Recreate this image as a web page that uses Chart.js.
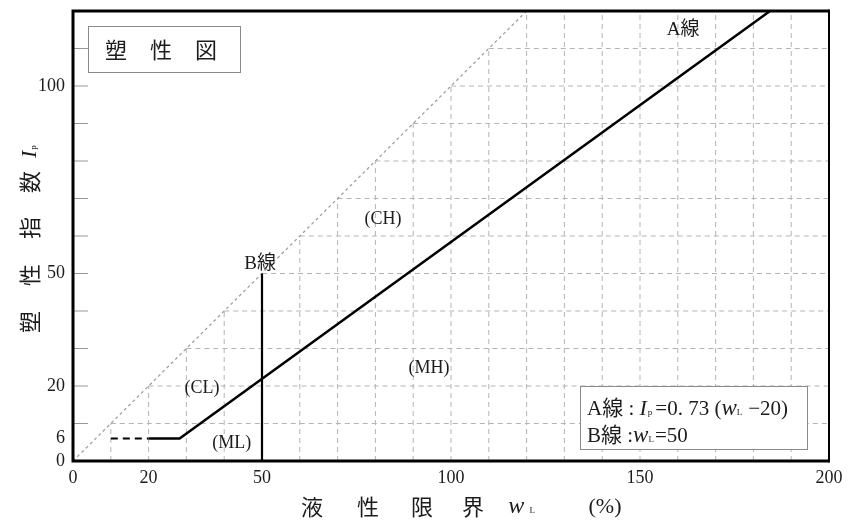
<!DOCTYPE html>
<html><head><meta charset="utf-8">
<script src="https://cdn.jsdelivr.net/npm/chart.js@4"></script>
<style>html,body{margin:0;padding:0;background:#fff}</style>
</head><body>
<canvas id="c" width="848" height="528"></canvas>
<script>
// ---- data ----
const xTickValues = [0, 20, 50, 100, 150, 200];
const yTickValues = [0, 6, 20, 50, 100];
const gridXValues = [10, 20, 30, 40, 50, 60, 70, 80, 90, 100, 110, 120, 130, 140, 150, 160, 170, 180, 190];
const gridYValues = [10, 20, 30, 40, 50, 60, 70, 80, 90, 100, 110];
const uLineX = [0, 120];
const uLineY = [0, 120];
const aLineX = [20, 28.2, 184.4];
const aLineY = [6, 6, 120];
const aDashX = [10, 20];
const aDashY = [6, 6];
const bLineX = [50, 50];
const bLineY = [0, 50];
const regionLabels = ['(CH)', '(MH)', '(CL)', '(ML)'];
const regionLabelX = [82, 94.2, 34.1, 42];
const regionLabelY = [64.5, 24.8, 19.5, 4.8];
const lineLabels = ['A線', 'B線'];
const lineLabelX = [161.4, 49.5];
const lineLabelY = [115, 52.5];
const X_MAX = 200, Y_MAX = 120;

// ---- styles ----
const SERIF = '"Liberation Serif", "Noto Sans CJK JP", serif';
const CJK = '"Noto Sans CJK JP", sans-serif';
const TXT = '#1c1c1c';
const GRID = '#b4b4b4';
const TICK_LEN = 4;

const pts = (xs, ys) => xs.map((x, i) => ({x: x, y: ys[i]}));
const datasets = [];
datasets.push({data: pts(aLineX, aLineY), borderColor: '#000', borderWidth: 2.5, order: 0});
datasets.push({data: pts(aDashX, aDashY), borderColor: '#000', borderWidth: 2, borderDash: [7, 5], order: 0});
datasets.push({data: pts(bLineX, bLineY), borderColor: '#000', borderWidth: 2.2, order: 0});
datasets.push({data: pts(uLineX, uLineY), borderColor: '#a0a0a0', borderWidth: 1.3, borderDash: [3, 3], order: 1});
gridXValues.forEach(k => datasets.push({data: [{x: k, y: 0}, {x: k, y: Math.min(k, Y_MAX)}], borderColor: GRID, borderWidth: 1, borderDash: [5, 4], order: 2}));
gridYValues.forEach(k => datasets.push({data: [{x: k, y: k}, {x: X_MAX, y: k}], borderColor: GRID, borderWidth: 1, borderDash: [5, 4], order: 2}));
gridYValues.forEach(k => datasets.push({data: [{x: 0, y: k}, {x: TICK_LEN, y: k}], borderColor: '#999', borderWidth: 1, order: 2}));
datasets.forEach(d => { d.showLine = true; d.pointRadius = 0; d.fill = false; d.tension = 0; });

function drawRich(ctx, segs, x, y, align) {
  let w = 0;
  segs.forEach(s => { ctx.font = s.f; s.w = ctx.measureText(s.t).width; w += s.w + (s.g || 0); });
  let cx = align === 'center' ? x - w / 2 : x;
  segs.forEach(s => { ctx.font = s.f; ctx.fillText(s.t, cx, y + (s.dy || 0)); cx += s.w + (s.g || 0); });
}

const deco = {
  id: 'deco',
  afterDatasetsDraw(chart) {
    const ctx = chart.ctx, a = chart.chartArea, xs = chart.scales.x, ys = chart.scales.y;
    ctx.save();
    // frame
    ctx.strokeStyle = '#000';
    ctx.lineWidth = 3;
    ctx.beginPath();
    ctx.moveTo(a.right, a.top); ctx.lineTo(a.left, a.top); ctx.lineTo(a.left, a.bottom); ctx.lineTo(a.right, a.bottom);
    ctx.stroke();
    ctx.lineWidth = 2;
    ctx.beginPath(); ctx.moveTo(a.right, a.top - 1.5); ctx.lineTo(a.right, a.bottom + 1.5); ctx.stroke();

    ctx.fillStyle = TXT;
    ctx.textBaseline = 'middle';
    ctx.textAlign = 'center';
    // region labels
    ctx.font = '18px ' + SERIF;
    regionLabels.forEach((t, i) => ctx.fillText(t, xs.getPixelForValue(regionLabelX[i]), ys.getPixelForValue(regionLabelY[i])));
    ctx.font = '19px ' + SERIF;
    lineLabels.forEach((t, i) => ctx.fillText(t, xs.getPixelForValue(lineLabelX[i]), ys.getPixelForValue(lineLabelY[i])));

    // title box
    ctx.fillStyle = '#fff';
    ctx.fillRect(88, 26, 152, 46);
    ctx.strokeStyle = '#8a8a8a'; ctx.lineWidth = 1;
    ctx.strokeRect(88.5, 26.5, 152, 46);
    ctx.fillStyle = TXT;
    ctx.font = '22px ' + CJK;
    ['塑', '性', '図'].forEach((c, i) => ctx.fillText(c, 116 + i * 45, 50));

    // formula box
    ctx.fillStyle = '#fff';
    ctx.fillRect(580, 386, 227, 63);
    ctx.strokeStyle = '#8a8a8a';
    ctx.strokeRect(580.5, 386.5, 227, 63);
    ctx.fillStyle = TXT;
    ctx.textAlign = 'left';
    const F = '21px ' + SERIF;
    drawRich(ctx, [
      {t: 'A線 : ', f: F},
      {t: 'I', f: 'italic 22px ' + SERIF, g: 1},
      {t: 'p', f: '9px ' + SERIF, dy: 4, g: 3},
      {t: '=0. 73 (', f: F},
      {t: 'w', f: 'italic 23px ' + SERIF},
      {t: 'L', f: '9px ' + SERIF, dy: 4, g: 6},
      {t: '−20)', f: F}
    ], 587, 409, 'left');
    drawRich(ctx, [
      {t: 'B線 :', f: F},
      {t: 'w', f: 'italic 23px ' + SERIF},
      {t: 'L', f: '9px ' + SERIF, dy: 4, g: 1},
      {t: '=50', f: F}
    ], 587, 436, 'left');

    // x axis title
    ctx.textAlign = 'center';
    ctx.font = '22px ' + CJK;
    ['液', '性', '限', '界'].forEach((c, i) => ctx.fillText(c, [312, 368, 422, 473][i], 507));
    drawRich(ctx, [
      {t: 'w', f: 'italic 24px ' + SERIF},
      {t: 'L', f: '9px ' + SERIF, dy: 4}
    ], 527, 507, 'center');
    ctx.font = '22px ' + SERIF;
    ctx.fillText('(%)', 605, 507);

    // y axis title (rotated)
    ctx.save();
    ctx.translate(30, 240);
    ctx.rotate(-Math.PI / 2);
    ctx.font = '22px ' + CJK;
    ['塑', '性', '指', '数'].forEach((c, i) => ctx.fillText(c, [-82, -35, 12, 58][i], 0));
    ctx.textAlign = 'left';
    drawRich(ctx, [
      {t: 'I', f: 'italic 22px ' + SERIF, g: 1},
      {t: 'p', f: '9px ' + SERIF, dy: 4}
    ], 82, 0, 'left');
    ctx.restore();
    ctx.restore();
  }
};

const noPad = s => { s.paddingTop = 0; s.paddingBottom = 0; s.paddingLeft = 0; s.paddingRight = 0; };

new Chart(document.getElementById('c'), {
  type: 'scatter',
  data: {datasets: datasets},
  options: {
    responsive: false,
    animation: false,
    devicePixelRatio: 1,
    layout: {padding: {top: 11, right: 19, left: 0, bottom: 0}},
    plugins: {legend: {display: false}, tooltip: {enabled: false}},
    elements: {line: {borderCapStyle: 'butt'}},
    scales: {
      x: {
        type: 'linear', min: 0, max: X_MAX,
        afterBuildTicks: s => { s.ticks = xTickValues.map(v => ({value: v})); },
        afterFit: s => { s.height = 67; noPad(s); },
        grid: {display: false, drawTicks: false},
        border: {display: false},
        ticks: {color: TXT, padding: 6, maxRotation: 0, font: {family: SERIF, size: 18}, callback: v => String(v)}
      },
      y: {
        type: 'linear', min: 0, max: Y_MAX,
        afterBuildTicks: s => { s.ticks = yTickValues.map(v => ({value: v})); },
        afterFit: s => { s.width = 73; noPad(s); },
        grid: {display: false, drawTicks: false},
        border: {display: false},
        ticks: {color: TXT, padding: 8, font: {family: SERIF, size: 18}, callback: v => String(v)}
      }
    }
  },
  plugins: [deco]
});
</script>
</body></html>
